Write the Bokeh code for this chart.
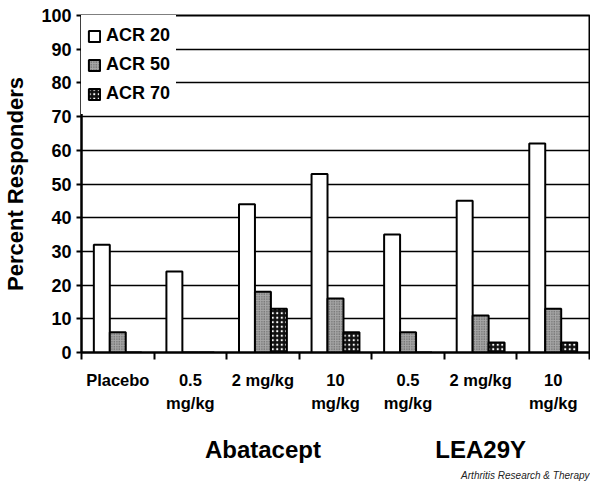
from bokeh.plotting import figure
from bokeh.models import (ColumnDataSource, Range1d, FixedTicker, LinearAxis,
                          Title, Legend, LegendItem)
from bokeh.transform import dodge
from bokeh.embed import file_html
from bokeh.resources import INLINE

# ---- data ----
categories = ["Placebo", "0.5\nmg/kg", "2 mg/kg", "10\nmg/kg",
              "0.5\nmg/kg", "2 mg/kg", "10\nmg/kg"]
acr20 = [32, 24, 44, 53, 35, 45, 62]
acr50 = [6, 0, 18, 16, 6, 11, 13]
acr70 = [0, 0, 13, 6, 0, 3, 3]
series_names = ["ACR 20", "ACR 50", "ACR 70"]
groups = ["Abatacept", "LEA29Y"]
group_members = [[1, 2, 3], [4, 5, 6]]
y_ticks = list(range(0, 101, 10))

FONT = "Liberation Sans"

centers = [i + 0.5 for i in range(len(categories))]
bounds = list(range(len(categories) + 1))
src = ColumnDataSource(dict(x=centers, a20=acr20, a50=acr50, a70=acr70))

p = figure(output_backend="svg", toolbar_location=None,
           x_range=Range1d(0, len(categories)), y_range=Range1d(0, 100),
           x_axis_type=None, min_border_left=75, min_border_top=15,
           min_border_right=1, min_border_bottom=0,
           frame_width=508, frame_height=337)
p.outline_line_color = "black"
p.outline_line_width = 2
p.background_fill_color = "white"
p.border_fill_color = "white"

w = 0.22
r20 = p.vbar(x=dodge("x", -w, range=p.x_range), top="a20", width=w, bottom=0, source=src,
             fill_color="white", line_color="black", line_width=2)
r50 = p.vbar(x="x", top="a50", width=w, bottom=0, source=src,
             fill_color="#a6a6a6", line_color="black", line_width=2,
             hatch_pattern="dot", hatch_color="#4a4a4a", hatch_scale=2.5, hatch_weight=1.2)
r70 = p.vbar(x=dodge("x", w, range=p.x_range), top="a70", width=w, bottom=0, source=src,
             fill_color="#111111", line_color="black", line_width=2,
             hatch_pattern="dot", hatch_color="white", hatch_scale=4.5, hatch_weight=1.8)

# y axis
yax = p.yaxis[0]
yax.ticker = FixedTicker(ticks=y_ticks, minor_ticks=[])
yax.axis_line_width = 2
yax.major_tick_line_width = 2
yax.major_tick_out = 5
yax.major_tick_in = 0
yax.major_label_standoff = 5
yax.major_label_text_font = FONT
yax.major_label_text_font_style = "bold"
yax.major_label_text_font_size = "18px"
yax.major_label_text_color = "black"
yax.axis_label = "Percent Responders"
yax.axis_label_text_font = FONT
yax.axis_label_text_font_style = "bold"
yax.axis_label_text_font_size = "22px"
yax.axis_label_text_color = "black"
yax.axis_label_standoff = 10

p.ygrid.ticker = FixedTicker(ticks=y_ticks[1:], minor_ticks=[])
p.ygrid.grid_line_color = "black"
p.ygrid.grid_line_width = 1.5
p.xgrid.visible = False

# x axis with boundary ticks (minor) and centered labels (major)
xax = LinearAxis(ticker=FixedTicker(ticks=centers, minor_ticks=bounds))
xax.major_label_overrides = {c: lab for c, lab in zip(centers, categories)}
xax.axis_line_width = 2
xax.major_tick_out = 0
xax.major_tick_in = 0
xax.minor_tick_out = 7
xax.minor_tick_in = 0
xax.minor_tick_line_width = 2
xax.major_label_standoff = 11
xax.major_label_text_font = FONT
xax.major_label_text_font_style = "bold"
xax.major_label_text_font_size = "16.5px"
xax.major_label_text_color = "black"
xax.major_label_text_line_height = 1.3
p.add_layout(xax, "below")

# group axis
gcenters = [sum(centers[i] for i in m) / len(m) for m in group_members]
gax = LinearAxis(ticker=FixedTicker(ticks=gcenters, minor_ticks=[]))
gax.major_label_overrides = {c: g for c, g in zip(gcenters, groups)}
gax.axis_line_alpha = 0
gax.major_tick_line_alpha = 0
gax.major_tick_out = 0
gax.major_tick_in = 0
gax.major_label_standoff = 21
gax.major_label_text_font = FONT
gax.major_label_text_font_style = "bold"
gax.major_label_text_font_size = "24px"
gax.major_label_text_color = "black"
p.add_layout(gax, "below")

footer = Title(text="Arthritis Research & Therapy", align="right",
               text_font=FONT, text_font_style="italic", text_font_size="10px",
               text_color="#222222", standoff=5)
p.add_layout(footer, "below")

legend = Legend(items=[LegendItem(label=series_names[0], renderers=[r20]),
                       LegendItem(label=series_names[1], renderers=[r50]),
                       LegendItem(label=series_names[2], renderers=[r70])],
                location="top_left")
legend.margin = 0
legend.padding = 6
legend.spacing = 0
legend.glyph_width = 14
legend.glyph_height = 14
legend.label_height = 29
legend.label_standoff = 5
legend.label_text_font = FONT
legend.label_text_font_style = "bold"
legend.label_text_font_size = "18px"
legend.label_text_color = "black"
legend.border_line_alpha = 0
legend.background_fill_color = "white"
legend.background_fill_alpha = 1
p.add_layout(legend)

open("out.html", "w").write(file_html(p, INLINE))
